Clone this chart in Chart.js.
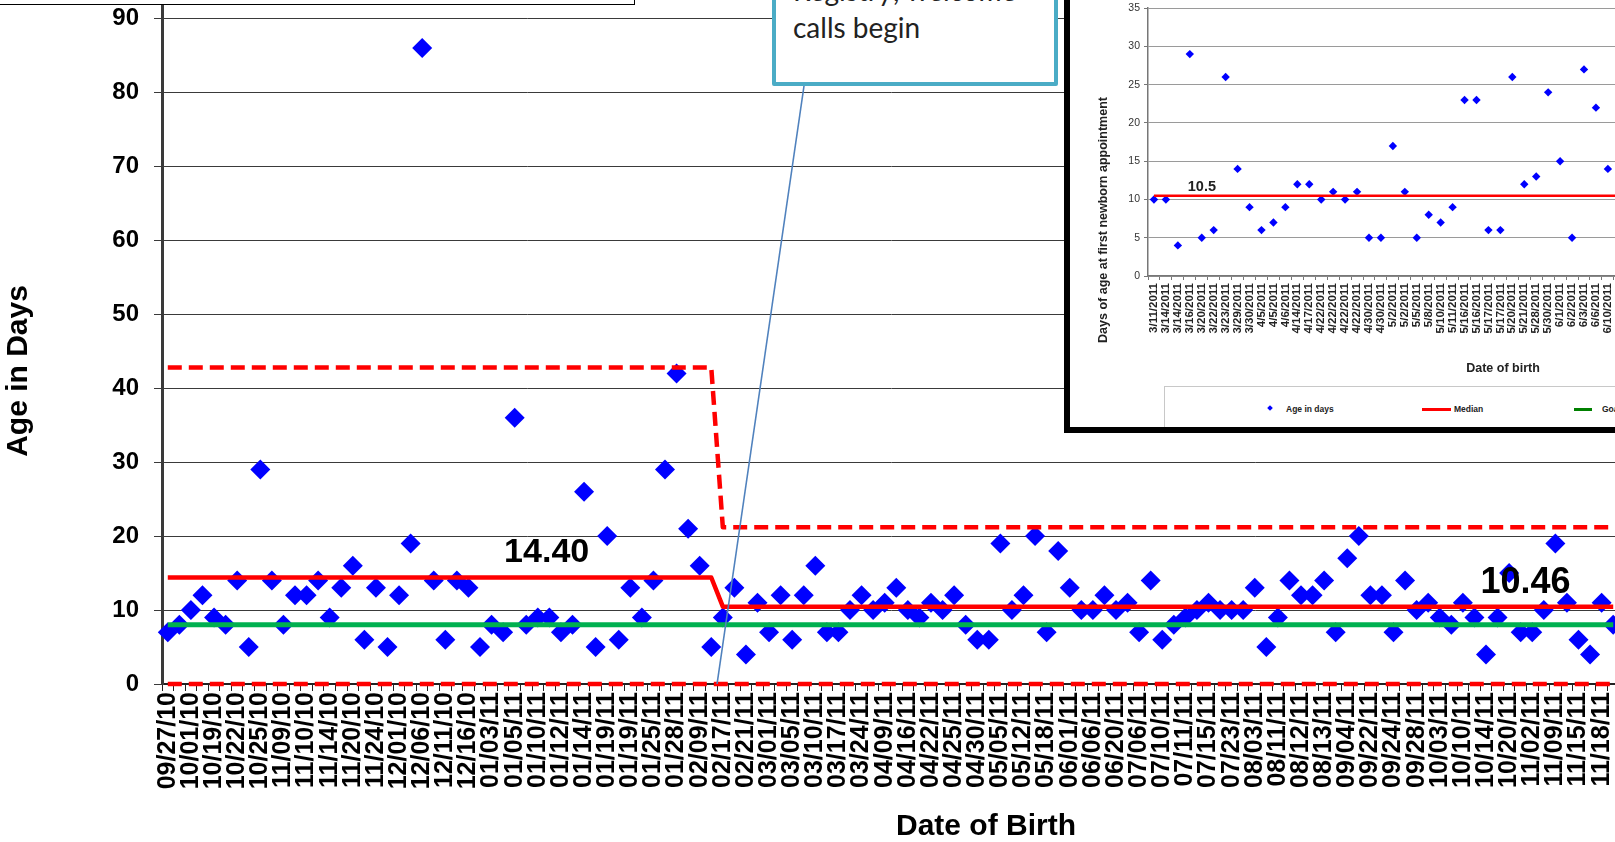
<!DOCTYPE html>
<html>
<head>
<meta charset="utf-8">
<script src="https://cdn.jsdelivr.net/npm/chart.js@4.4.1/dist/chart.umd.min.js"></script>
<style>
  html, body { margin: 0; padding: 0; }
  body { width: 1615px; height: 842px; overflow: hidden; background: #fff; position: relative; font-family: "Liberation Sans", Arial, sans-serif; }
  #main { position: absolute; left: 0; top: -80px; width: 1629px; height: 922px; }
  #topbox { position: absolute; left: -2px; top: -40px; width: 637px; height: 45px; box-sizing: border-box; border: 1px solid #000; background: #fff; }
  #callout { position: absolute; left: 772px; top: -60px; width: 286px; height: 146px; box-sizing: border-box; border: 4px solid #4BACC6; background: #fff; border-radius: 2px; }
  #callout .txt { position: absolute; left: 17px; top: 28px; font-family: Lato, "Open Sans", sans-serif; font-size: 28px; line-height: 36.5px; color: #222; white-space: nowrap; }
  #inset { position: absolute; left: 1064px; top: -6px; width: 700px; height: 427px; border: 6px solid #000; background: #fff; overflow: hidden; }
  #insetChart { position: absolute; left: 0; top: 0; width: 560px; height: 380px; }
  #legend { position: absolute; left: 94px; top: 386px; width: 700px; height: 80px; border: 1px solid #c8c8c8; background: #fff; font-family: "Liberation Sans", Arial, sans-serif; font-weight: bold; font-size: 8.5px; color: #222; }
  #legend .t { position: absolute; top: 16px; line-height: 12px; }
  #legend .ln { position: absolute; top: 21px; height: 2.5px; }
  #legend .dm { position: absolute; left: 103px; top: 19px; width: 4px; height: 4px; background: #0000FF; transform: rotate(45deg); }
</style>
</head>
<body>
<canvas id="main" width="1629" height="922"></canvas>
<div id="topbox"></div>
<div id="callout"><div class="txt">Registry; welcome<br>calls begin</div></div>
<div id="inset">
  <canvas id="insetChart" width="560" height="380"></canvas>
  <div id="legend">
    <div class="dm"></div><div class="t" style="left:121px">Age in days</div>
    <div class="ln" style="left:257px;width:29px;background:#FF0000"></div><div class="t" style="left:289px">Median</div>
    <div class="ln" style="left:409px;width:18px;background:#008000"></div><div class="t" style="left:437px">Goal</div>
  </div>
</div>
<script>
// ---------------- main chart data ----------------
const tickLabels = ['09/27/10','10/01/10','10/19/10','10/22/10','10/25/10','11/09/10','11/10/10','11/14/10','11/20/10','11/24/10',
  '12/01/10','12/06/10','12/11/10','12/16/10','01/03/11','01/05/11','01/10/11','01/12/11','01/14/11','01/19/11',
  '01/19/11','01/25/11','01/28/11','02/09/11','02/17/11','02/21/11','03/01/11','03/05/11','03/10/11','03/17/11',
  '03/24/11','04/09/11','04/16/11','04/22/11','04/25/11','04/30/11','05/05/11','05/12/11','05/18/11','06/01/11',
  '06/06/11','06/20/11','07/06/11','07/10/11','07/11/11','07/15/11','07/23/11','08/03/11','08/11/11','08/12/11',
  '08/13/11','09/04/11','09/22/11','09/24/11','09/28/11','10/03/11','10/10/11','10/14/11','10/20/11','11/02/11',
  '11/09/11','11/15/11','11/18/11'];

const ages = [7,8,10,12,9,8,14,5,29,14,8,12,12,14,9,13,16,6,13,5,12,19,86,14,6,14,13,5,8,7,36,8,
  9,9,7,8,26,5,20,6,13,9,14,29,42,21,16,5,9,13,4,11,7,12,6,12,16,7,7,10,12,10,11,
  13,10,9,11,10,12,8,6,6,19,10,12,20,7,18,13,10,10,12,10,11,7,14,6,8,9,10,11,10,10,10,13,5,
  9,14,12,12,14,7,17,20,12,12,7,14,10,11,9,8,11,9,4,9,15,7,7,10,19,11,6,4,11,8];

const breakIndex = 48;            // first point after the change (welcome calls begin)
const medianValues = [14.40, 10.46];
const uclValues = [42.8, 21.2];
const lclValue = 0;
const goalValue = 8;
const yTicks = { min: 0, max: 100, step: 10 };

// ---------------- inset chart data ----------------
const insetLabels = ['3/11/2011','3/14/2011','3/14/2011','3/16/2011','3/20/2011','3/22/2011','3/23/2011','3/29/2011','3/30/2011','4/5/2011',
  '4/5/2011','4/6/2011','4/14/2011','4/17/2011','4/22/2011','4/22/2011','4/22/2011','4/22/2011','4/30/2011','4/30/2011',
  '5/2/2011','5/2/2011','5/5/2011','5/8/2011','5/10/2011','5/11/2011','5/16/2011','5/16/2011','5/17/2011','5/17/2011',
  '5/20/2011','5/21/2011','5/28/2011','5/30/2011','6/1/2011','6/2/2011','6/3/2011','6/6/2011','6/10/2011',''];
const insetAges = [10,10,4,29,5,6,26,14,9,6,7,9,12,12,10,11,10,11,5,5,17,11,5,8,7,9,23,23,6,6,26,12,13,24,15,5,27,22,14,27];
const insetMedian = 10.5;

// ---------------- helpers ----------------
const categories = ages.map((_, i) => i % 2 === 0 ? (tickLabels[i / 2] || '') : '');
const phase = i => (i < breakIndex ? 0 : 1);
const medianData = ages.map((_, i) => medianValues[phase(i)]);
const uclData = ages.map((_, i) => uclValues[phase(i)]);
const lclData = ages.map(() => lclValue);
const goalData = ages.map(() => goalValue);
const insetMedianData = insetAges.map(() => insetMedian);

function textPlugin(items, after) {
  return {
    id: 'texts',
    afterDraw(chart) {
      const ctx = chart.ctx;
      if (after) after(chart, ctx);
      items.forEach(it => {
        const p = it.at(chart);
        ctx.save();
        ctx.font = it.font;
        ctx.fillStyle = it.color || '#000';
        ctx.textAlign = it.align || 'center';
        ctx.textBaseline = it.baseline || 'middle';
        ctx.translate(p.x, p.y);
        if (it.rotate) ctx.rotate(it.rotate);
        ctx.fillText(it.text, 0, 0);
        ctx.restore();
      });
    }
  };
}
function fixBox(w, h) {
  return function (scale) {
    if (w !== null) scale.width = w;
    if (h !== null) scale.height = h;
    scale.paddingLeft = 0; scale.paddingRight = 0; scale.paddingTop = 0; scale.paddingBottom = 0;
  };
}

const FONT = '"Liberation Sans", Arial, sans-serif';

// ---------------- main chart ----------------
new Chart(document.getElementById('main'), {
  type: 'line',
  data: {
    labels: categories,
    datasets: [
      { label: 'Age in Days', data: ages, showLine: false, pointStyle: 'rectRot', pointRadius: 10,
        pointBackgroundColor: '#0000FF', pointBorderWidth: 0, order: 10 },
      { label: 'Upper limit', data: uclData, borderColor: '#FF0000', borderWidth: 4.5, borderDash: [14, 7],
        pointRadius: 0, borderJoinStyle: 'round', fill: false, order: 3 },
      { label: 'Lower limit', data: lclData, borderColor: '#FF0000', borderWidth: 4.5, borderDash: [14, 7],
        pointRadius: 0, fill: false, clip: false, order: 3 },
      { label: 'Median', data: medianData, borderColor: '#FF0000', borderWidth: 4.5, pointRadius: 0,
        borderJoinStyle: 'round', fill: false, order: 2 },
      { label: 'Goal', data: goalData, borderColor: '#00B050', borderWidth: 5, pointRadius: 0, fill: false, order: 1 }
    ]
  },
  options: {
    responsive: false,
    animation: false,
    devicePixelRatio: 1,
    events: [],
    layout: { padding: { top: 24.56, left: 0, right: 0, bottom: 0 } },
    plugins: { legend: { display: false }, tooltip: { enabled: false } },
    scales: {
      x: {
        type: 'category',
        offset: true,
        afterFit: fixBox(null, 158),
        grid: { offset: true, drawOnChartArea: false, drawTicks: true, tickLength: 7, color: '#222', lineWidth: 1 },
        border: { display: true, color: '#222', width: 2 },
        ticks: { autoSkip: false, minRotation: 90, maxRotation: 90, padding: 1, color: '#000',
          font: { family: FONT, size: 25, weight: 'bold' } }
      },
      y: {
        min: yTicks.min, max: yTicks.max,
        afterFit: fixBox(162, null),
        grid: { color: '#3a3a3a', lineWidth: 1, drawTicks: true, tickLength: 8, tickColor: '#3a3a3a' },
        border: { display: true, color: '#3a3a3a', width: 3 },
        ticks: { stepSize: yTicks.step, padding: 15, color: '#000', font: { family: FONT, size: 24, weight: 'bold' } }
      }
    }
  },
  plugins: [textPlugin([
    { text: 'Age in Days', font: 'bold 30px ' + FONT, rotate: -Math.PI / 2, at: () => ({ x: 18.5, y: 451 }) },
    { text: 'Date of Birth', font: 'bold 30px ' + FONT, at: () => ({ x: 986, y: 907 }) },
    { text: medianValues[0].toFixed(2), font: 'bold 34px ' + FONT, align: 'left', baseline: 'alphabetic',
      at: c => ({ x: c.scales.x.getPixelForValue(29) + 1, y: c.scales.y.getPixelForValue(medianValues[0]) - 15.6 }) },
    { text: medianValues[1].toFixed(2), font: 'bold 36px ' + FONT, align: 'left', baseline: 'alphabetic',
      at: c => ({ x: c.scales.x.getPixelForValue(113) + 6, y: c.scales.y.getPixelForValue(medianValues[1]) - 13.4 }) }
  ], (chart, ctx) => {
    // connector from the callout box to the change point on the axis
    const xs = chart.scales.x, ys = chart.scales.y;
    const xEnd = (xs.getPixelForValue(breakIndex - 1) + xs.getPixelForValue(breakIndex)) / 2;
    ctx.save();
    ctx.strokeStyle = '#4F81BD';
    ctx.lineWidth = 1.6;
    ctx.beginPath();
    ctx.moveTo(804, 166);
    ctx.lineTo(xEnd, ys.getPixelForValue(0));
    ctx.stroke();
    ctx.restore();
  })]
});

// ---------------- inset chart ----------------
new Chart(document.getElementById('insetChart'), {
  type: 'line',
  data: {
    labels: insetLabels,
    datasets: [
      { label: 'Age in days', data: insetAges, showLine: false, pointStyle: 'rectRot', pointRadius: 4.2,
        pointBackgroundColor: '#0000FF', pointBorderWidth: 0, order: 5 },
      { label: 'Median', data: insetMedianData, borderColor: '#FF0000', borderWidth: 2.5, pointRadius: 0, fill: false, order: 1 }
    ]
  },
  options: {
    responsive: false,
    animation: false,
    devicePixelRatio: 1,
    events: [],
    layout: { padding: { top: 8.2, left: 0, right: 0, bottom: 0 } },
    plugins: { legend: { display: false }, tooltip: { enabled: false } },
    scales: {
      x: {
        type: 'category',
        offset: true,
        afterFit: fixBox(null, 104),
        grid: { offset: true, drawOnChartArea: false, drawTicks: true, tickLength: 4, color: '#777', lineWidth: 1 },
        border: { display: true, color: '#777', width: 1.5 },
        ticks: { autoSkip: false, minRotation: 90, maxRotation: 90, padding: 3, color: '#222',
          font: { family: FONT, size: 11.5, weight: 'bold' } }
      },
      y: {
        min: 0, max: 35,
        afterFit: fixBox(78, null),
        grid: { color: '#9a9a9a', lineWidth: 1, drawTicks: true, tickLength: 4, tickColor: '#777' },
        border: { display: true, color: '#777', width: 1.5 },
        ticks: { stepSize: 5, padding: 4, color: '#333', font: { family: FONT, size: 10.5 } }
      }
    }
  },
  plugins: [textPlugin([
    { text: 'Days of age at first newborn appointment', font: 'bold 12.5px ' + FONT, color: '#222',
      rotate: -Math.PI / 2, at: () => ({ x: 34, y: 220 }) },
    { text: 'Date of birth', font: 'bold 12.5px ' + FONT, color: '#222', at: () => ({ x: 433, y: 369 }) },
    { text: String(insetMedian), font: 'bold 14.5px ' + FONT, color: '#222', align: 'left', baseline: 'alphabetic',
      at: c => ({ x: c.scales.x.getPixelForValue(3) - 2, y: c.scales.y.getPixelForValue(insetMedian) - 4.5 }) }
  ])]
});
</script>
</body>
</html>
